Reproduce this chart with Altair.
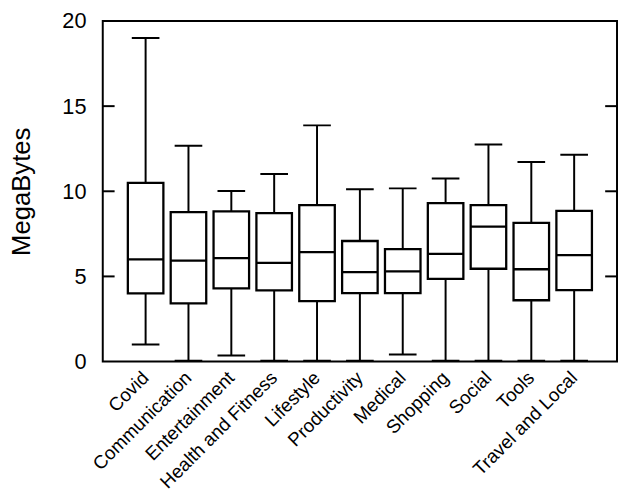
import altair as alt
import pandas as pd

categories = ["Covid", "Communication", "Entertainment", "Health and Fitness",
              "Lifestyle", "Productivity", "Medical", "Shopping", "Social",
              "Tools", "Travel and Local"]
mins = [1.0, 0.05, 0.35, 0.05, 0.05, 0.05, 0.42, 0.05, 0.05, 0.05, 0.05]
q1s = [4.0, 3.42, 4.3, 4.18, 3.55, 4.02, 4.02, 4.85, 5.45, 3.6, 4.2]
medians = [6.0, 5.93, 6.08, 5.8, 6.42, 5.25, 5.3, 6.32, 7.92, 5.42, 6.25]
q3s = [10.5, 8.78, 8.82, 8.72, 9.18, 7.08, 6.6, 9.3, 9.18, 8.15, 8.85]
maxs = [19.0, 12.68, 10.02, 11.02, 13.87, 10.12, 10.17, 10.75, 12.75, 11.72, 12.15]
y_ticks = [0, 5, 10, 15, 20]

df = pd.DataFrame({"cat": categories, "min": mins, "q1": q1s, "median": medians,
                   "q3": q3s, "max": maxs})
ticks_df = pd.DataFrame({"v": y_ticks[1:-1]})

FONT = "Liberation Sans"
W, H = 521, 345

x = alt.X("cat:N", sort=categories, title=None,
          scale=alt.Scale(paddingInner=0, paddingOuter=0.5),
          axis=alt.Axis(labelAngle=-45, labelAlign="right", labelBaseline="middle",
                        labelFontSize=19, labelFont=FONT, labelColor="black",
                        ticks=False, tickSize=0, domain=False, labelPadding=13,
                        labelOverlap=False, labelBound=False))
yscale = alt.Scale(domain=[0, 20], nice=False, zero=True)
yaxis = alt.Axis(values=y_ticks, ticks=False, tickSize=0, domain=False, grid=False,
                 labelFontSize=22, labelFont=FONT, labelColor="black", labelPadding=17,
                 title="MegaBytes", titleFont=FONT, titleFontSize=26,
                 titleFontWeight="normal", titleColor="black", titlePadding=28)

base = alt.Chart(df)

whisker = base.mark_rule(color="black", strokeWidth=2).encode(
    x=x, y=alt.Y("min:Q", scale=yscale, axis=yaxis), y2="max:Q")
box = base.mark_bar(fill="white", stroke="black", strokeWidth=2.3, size=36).encode(
    x=x, y=alt.Y("q1:Q", scale=yscale), y2="q3:Q")
med = base.mark_bar(fill="black", stroke="black", strokeWidth=2.3, size=36).encode(
    x=x, y=alt.Y("median:Q", scale=yscale), y2="median:Q")
capmin = base.mark_bar(fill="black", stroke="black", strokeWidth=2, size=28).encode(
    x=x, y=alt.Y("min:Q", scale=yscale), y2="min:Q")
capmax = base.mark_bar(fill="black", stroke="black", strokeWidth=2, size=28).encode(
    x=x, y=alt.Y("max:Q", scale=yscale), y2="max:Q")

tl = alt.Chart(ticks_df).mark_rule(color="black", strokeWidth=2).encode(
    y=alt.Y("v:Q", scale=yscale), x=alt.value(0), x2=alt.value(12))
tr = alt.Chart(ticks_df).mark_rule(color="black", strokeWidth=2).encode(
    y=alt.Y("v:Q", scale=yscale), x=alt.value(W - 12), x2=alt.value(W))

chart = alt.layer(whisker, box, med, capmin, capmax, tl, tr).properties(
    width=W, height=H,
    background="white",
    autosize=alt.AutoSizeParams(type="none"),
    padding={"left": 96, "top": 10, "right": 1, "bottom": 130},
).configure_view(stroke="black", strokeWidth=2)

chart.save("out.html", embed_options={"renderer": "svg", "actions": False})
